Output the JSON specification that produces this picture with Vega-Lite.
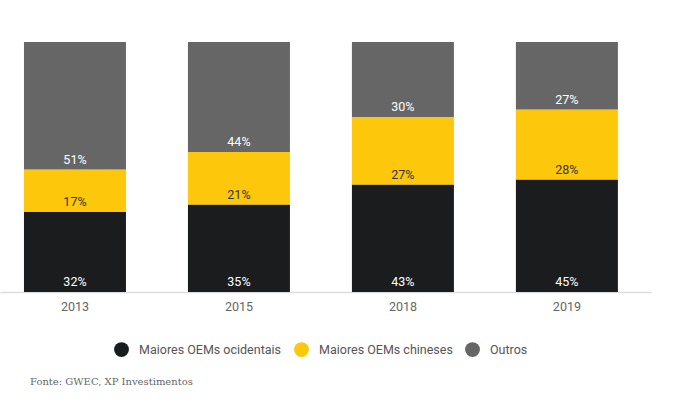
{
  "$schema": "https://vega.github.io/schema/vega-lite/v6.json",
  "width": 651,
  "height": 250,
  "padding": {"left": 0, "top": 42, "right": 36, "bottom": 5},
  "background": "white",
  "title": {"text": "Fonte: GWEC, XP Investimentos", "orient": "bottom", "anchor": "start", "frame": "group", "dx": 30, "offset": 20, "font": "DejaVu Serif", "fontSize": 10, "fontWeight": "normal", "color": "#666666"},
  "config": {"view": {"stroke": null}, "font": "Roboto"},
  "data": {"values": [
    {"year": "2013", "series": "Maiores OEMs ocidentais", "order": 1, "value": 32},
    {"year": "2013", "series": "Maiores OEMs chineses", "order": 2, "value": 17},
    {"year": "2013", "series": "Outros", "order": 3, "value": 51},
    {"year": "2015", "series": "Maiores OEMs ocidentais", "order": 1, "value": 35},
    {"year": "2015", "series": "Maiores OEMs chineses", "order": 2, "value": 21},
    {"year": "2015", "series": "Outros", "order": 3, "value": 44},
    {"year": "2018", "series": "Maiores OEMs ocidentais", "order": 1, "value": 43},
    {"year": "2018", "series": "Maiores OEMs chineses", "order": 2, "value": 27},
    {"year": "2018", "series": "Outros", "order": 3, "value": 30},
    {"year": "2019", "series": "Maiores OEMs ocidentais", "order": 1, "value": 45},
    {"year": "2019", "series": "Maiores OEMs chineses", "order": 2, "value": 28},
    {"year": "2019", "series": "Outros", "order": 3, "value": 27}
  ]},
  "transform": [
    {"stack": "value", "groupby": ["year"], "sort": [{"field": "order", "order": "ascending"}], "as": ["v0", "v1"]},
    {"calculate": "datum.value + '%'", "as": "label"}
  ],
  "encoding": {
    "x": {"field": "year", "type": "nominal", "scale": {"paddingInner": 0.378, "paddingOuter": 0.174, "align": 0.42},
      "axis": {"title": null, "labelAngle": 0, "ticks": false, "domainColor": "#dddddd", "domainWidth": 1.5, "labelColor": "#666666", "labelFontSize": 12.5, "labelPadding": 8, "labelFont": "Roboto"}}
  },
  "layer": [
    {"mark": {"type": "bar"},
     "encoding": {
       "y": {"field": "v0", "type": "quantitative", "scale": {"domain": [0, 100], "nice": false}, "axis": null},
       "y2": {"field": "v1"},
       "color": {"field": "series", "type": "nominal",
         "scale": {"domain": ["Maiores OEMs ocidentais", "Maiores OEMs chineses", "Outros"], "range": ["#1b1c1e", "#fdc70c", "#666666"]},
         "legend": {"title": null, "orient": "none", "direction": "horizontal", "legendX": 114, "legendY": 300, "symbolType": "circle", "symbolSize": 220, "symbolStrokeWidth": 0, "symbolOpacity": 1, "labelFontSize": 12.5, "labelColor": "#555555", "labelFont": "Roboto", "labelOffset": 10, "columnPadding": 12}}
     }},
    {"mark": {"type": "text", "baseline": "bottom", "dy": -3, "fontSize": 12.5, "font": "Roboto"},
     "encoding": {
       "y": {"field": "v0", "type": "quantitative"},
       "text": {"field": "label", "type": "nominal"},
       "color": {"condition": {"test": "datum.series === 'Maiores OEMs chineses'", "value": "#333333"}, "value": "#ffffff"}
     }}
  ]
}
